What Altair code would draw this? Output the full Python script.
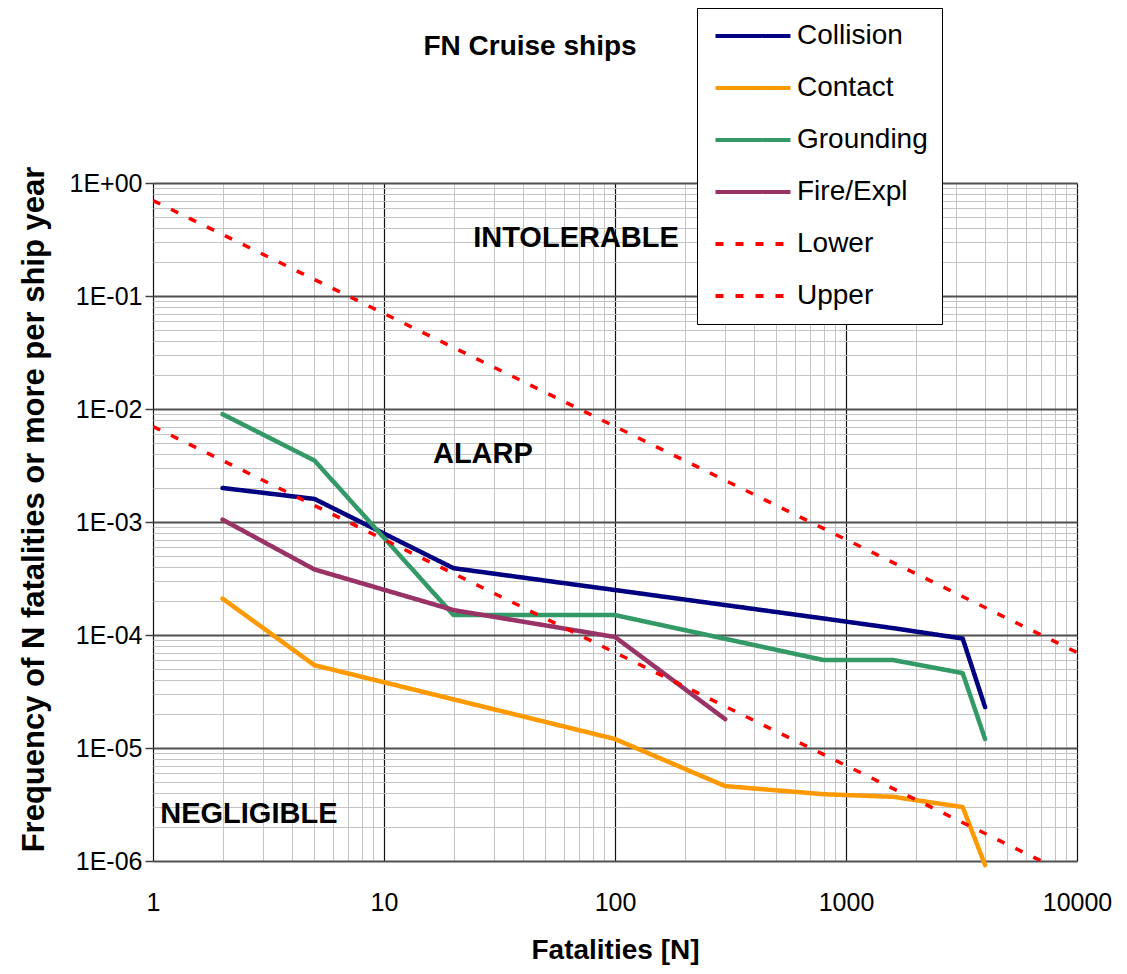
import altair as alt
import pandas as pd

FONT = "Liberation Sans"

# ---- data ----
collision_n = [2, 5, 20, 100, 800, 1600, 3200, 4000]
collision_f = [2.0e-3, 1.6e-3, 3.9e-4, 2.5e-4, 1.4e-4, 1.15e-4, 9.3e-5, 2.3e-5]
contact_n = [2, 5, 100, 300, 800, 1600, 3200, 4000]
contact_f = [2.1e-4, 5.4e-5, 1.2e-5, 4.6e-6, 3.9e-6, 3.7e-6, 3.0e-6, 9.2e-7]
grounding_n = [2, 5, 20, 100, 800, 1600, 3200, 4000]
grounding_f = [9.0e-3, 3.5e-3, 1.5e-4, 1.5e-4, 6.0e-5, 6.0e-5, 4.6e-5, 1.2e-5]
fire_n = [2, 5, 20, 100, 300]
fire_f = [1.05e-3, 3.8e-4, 1.66e-4, 9.6e-5, 1.8e-5]
lower_n = [1, 10000]
lower_f = [7e-3, 7e-7]
upper_n = [1, 10000]
upper_f = [0.7, 7e-5]

series_names = ["Collision", "Contact", "Grounding", "Fire/Expl", "Lower", "Upper"]
series_colors = ["#000080", "#FF9900", "#339966", "#993366", "#FF0000", "#FF0000"]
series_dash = [[1, 0], [1, 0], [1, 0], [1, 0], [8, 12], [8, 12]]

ann_text = ["INTOLERABLE", "ALARP", "NEGLIGIBLE"]
ann_n = [67.8, 26.8, 2.6]
ann_f = [0.272, 3.33e-3, 2.17e-6]

x_major = [1, 10, 100, 1000, 10000]
y_major = [1e-6, 1e-5, 1e-4, 1e-3, 1e-2, 1e-1, 1.0]

x_grid = [m * d for d in x_major[:-1] for m in range(1, 10)] + [x_major[-1]]
y_grid = [m * d for d in y_major[:-1] for m in range(1, 10)] + [y_major[-1]]

# ---- tables ----
def frame(name, ns, fs):
    return pd.DataFrame({"N": ns, "F": fs, "series": name})

curves = pd.concat([
    frame("Collision", collision_n, collision_f),
    frame("Contact", contact_n, contact_f),
    frame("Grounding", grounding_n, grounding_f),
    frame("Fire/Expl", fire_n, fire_f),
], ignore_index=True)
bounds = pd.concat([
    frame("Lower", lower_n, lower_f),
    frame("Upper", upper_n, upper_f),
], ignore_index=True)
ann = pd.DataFrame({"N": ann_n, "F": ann_f, "label": ann_text})

MAJOR = "abs(log(datum.value)/LN10 - round(log(datum.value)/LN10)) < 0.001"

x_axis = alt.Axis(
    values=x_grid, labelExpr=f"{MAJOR} ? format(datum.value, 'd') : ''",
    labelOverlap=False, labelFlush=False, labelBound=False,
    ticks=False, tickSize=0, domain=False, labelPadding=29,
    labelFont=FONT, labelFontSize=25, labelColor="black",
    gridColor={"condition": {"test": MAJOR, "value": "#111111"}, "value": "#c4c4c4"},
    gridWidth={"condition": {"test": MAJOR, "value": 1.2}, "value": 1},
    title="Fatalities [N]", titleFont=FONT, titleFontSize=28, titleFontWeight="bold",
    titleColor="black", titleBaseline="alphabetic", titleY=97,
)
y_axis = alt.Axis(
    values=y_grid,
    labelExpr=f"{MAJOR} ? (datum.value >= 0.999 ? '1E+00' : '1E-0' + round(-log(datum.value)/LN10)) : ''",
    labelOverlap=False, labelBound=False, labelFlush=False,
    ticks=True, tickSize=8, tickWidth=1.5, tickColor="#404040",
    tickOpacity={"condition": {"test": MAJOR, "value": 1}, "value": 0},
    domain=False, labelPadding=3,
    labelFont=FONT, labelFontSize=25, labelColor="black",
    gridColor={"condition": {"test": MAJOR, "value": "#505050"}, "value": "#c4c4c4"},
    gridWidth={"condition": {"test": MAJOR, "value": 1.8}, "value": 1},
    title="Frequency of N fatalities or more per ship year", titleFont=FONT,
    titleFontSize=31, titleFontWeight="bold", titleColor="black",
    titleBaseline="alphabetic", titleX=-110, titleY=326, titleAngle=270,
)

X = alt.X("N:Q", scale=alt.Scale(type="log", domain=[1, 10000], nice=False), axis=x_axis)
Y = alt.Y("F:Q", scale=alt.Scale(type="log", domain=[1e-6, 1], nice=False), axis=y_axis)

leg = alt.Legend(
    title=None, orient="none", legendX=544, legendY=-175, direction="vertical",
    fillColor="white", strokeColor="black", padding=14,
    labelFont=FONT, labelFontSize=28, labelColor="black", labelLimit=400,
    rowPadding=24, symbolType="M-1.267,0H8.733", symbolSize=225,
    symbolStrokeWidth=4, labelOffset=58,
)
color = alt.Color("series:N", scale=alt.Scale(domain=series_names, range=series_colors), legend=leg)
dash = alt.StrokeDash("series:N", scale=alt.Scale(domain=series_names, range=series_dash), legend=leg)

lines = alt.Chart(curves).mark_line(strokeWidth=4.5, strokeCap="round", strokeJoin="round").encode(
    x=X, y=Y, color=color, strokeDash=dash
)
limits = alt.Chart(bounds).mark_line(strokeWidth=3.5, strokeCap="butt", clip=True).encode(
    x=X, y=Y, color=color, strokeDash=dash
)
labels = alt.Chart(ann).mark_text(
    font=FONT, fontSize=29, fontWeight="bold", align="center", baseline="alphabetic", color="black"
).encode(x=X, y=Y, text="label:N")

chart = alt.layer(lines, limits, labels).properties(
    width=924, height=678,
    autosize=alt.AutoSizeParams(type="none"),
    padding={"left": 145, "top": 175, "right": 42, "bottom": 105},
    title=alt.TitleParams(
        text="FN Cruise ships", font=FONT, fontSize=28, fontWeight="bold", color="black",
        anchor="middle", dx=-85, dy=75, baseline="alphabetic", offset=0,
    ),
).configure_view(fill="#FBEFD5", stroke="#8a8a8a", strokeWidth=2).configure(background="white")

chart.save("out.html", embed_options={"renderer": "svg", "actions": False})
